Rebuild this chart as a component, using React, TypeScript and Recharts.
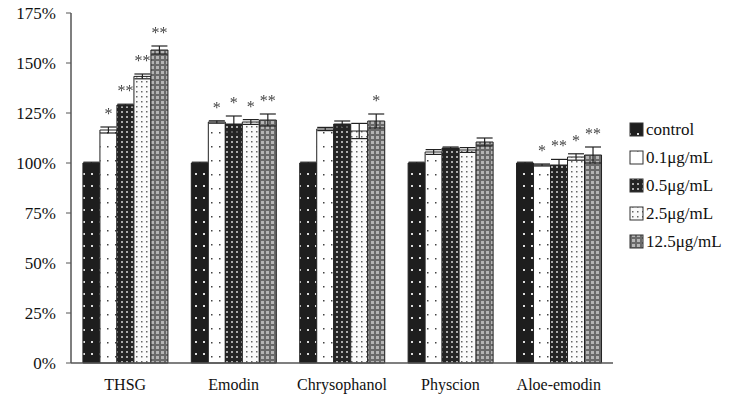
import React from "react";
import { BarChart, Bar, XAxis, YAxis, ErrorBar } from "recharts";

const categories = ["THSG", "Emodin", "Chrysophanol", "Physcion", "Aloe-emodin"];

const seriesNames = ["control", "0.1μg/mL", "0.5μg/mL", "2.5μg/mL", "12.5μg/mL"];

// mean values (% of control)
const controlValues = [100, 100, 100, 100, 100];
const dose01Values = [116.5, 120.5, 117, 105.5, 99];
const dose05Values = [129, 119.5, 119.5, 107.5, 99];
const dose25Values = [143.3, 120.5, 116, 106.5, 103];
const dose125Values = [156.5, 121.5, 121, 110.5, 104];

// error bar half-lengths
const controlErr = [0.4, 0.4, 0.4, 0.4, 0.4];
const dose01Err = [1.5, 0.6, 0.8, 1.2, 0.5];
const dose05Err = [0.4, 4, 1.5, 0.5, 2.8];
const dose25Err = [1.2, 1.2, 3.8, 1.2, 1.6];
const dose125Err = [2, 3, 3.5, 2, 4];

// significance marks
const controlStars = ["", "", "", "", ""];
const dose01Stars = ["*", "*", "", "", "*"];
const dose05Stars = ["**", "*", "", "", "**"];
const dose25Stars = ["**", "*", "", "", "*"];
const dose125Stars = ["**", "**", "*", "", "**"];

const yTicks = [0, 25, 50, 75, 100, 125, 150, 175];

const FONT = "'Liberation Serif', 'Times New Roman', serif";

const keys = ["control", "d01", "d05", "d25", "d125"];
const values = [controlValues, dose01Values, dose05Values, dose25Values, dose125Values];
const errs = [controlErr, dose01Err, dose05Err, dose25Err, dose125Err];
const stars = [controlStars, dose01Stars, dose05Stars, dose25Stars, dose125Stars];

const data = categories.map((name, i) => {
  const row: Record<string, string | number> = { name };
  keys.forEach((k, s) => {
    row[k] = values[s][i];
    row[k + "Err"] = errs[s][i];
  });
  return row;
});

function Patterns({ prefix }: { prefix: string }) {
  return (
    <defs>
      <pattern id={prefix + "0"} width="8" height="12" patternUnits="userSpaceOnUse">
        <rect width="8" height="12" fill="#1e1e1e" />
        <rect x="3" y="5" width="2" height="2" fill="#ddd" />
      </pattern>
      <pattern id={prefix + "1"} width="8" height="14" patternUnits="userSpaceOnUse">
        <rect width="8" height="14" fill="#fff" />
        <rect x="3" y="6" width="1.5" height="1.5" fill="#444" />
      </pattern>
      <pattern id={prefix + "2"} width="5" height="5" patternUnits="userSpaceOnUse">
        <rect width="5" height="5" fill="#242424" />
        <rect x="1" y="1" width="2" height="2" fill="#aaa" />
      </pattern>
      <pattern id={prefix + "3"} width="5" height="5" patternUnits="userSpaceOnUse">
        <rect width="5" height="5" fill="#fafafa" />
        <rect x="1" y="1" width="1.5" height="1.5" fill="#666" />
      </pattern>
      <pattern id={prefix + "4"} width="5" height="5" patternUnits="userSpaceOnUse">
        <rect width="5" height="5" fill="#6a6a6a" />
        <rect x="1" y="1" width="3" height="3" fill="#b5b5b5" />
      </pattern>
    </defs>
  );
}

const renderStars = (s: number) => (props: any) => {
  const { x, y, width, height, index } = props;
  const mark = stars[s][index];
  if (!mark) return <g key={`star-${s}-${index}`} />;
  const v = values[s][index];
  const e = errs[s][index];
  const top = y - (e * height) / v;
  return (
    <g key={`star-${s}-${index}`} style={{ filter: "grayscale(1)" }}>
      <text
        x={x + width / 2}
        y={top - 8}
        textAnchor="middle"
        fontFamily={FONT}
        fontSize={16}
        fill="#444"
        stroke="none"
      >
        {mark}
      </text>
    </g>
  );
};

const YTick = (props: any) => {
  const { x, y, payload } = props;
  return (
    <text x={x - 8} y={y + 6} textAnchor="end" fontFamily={FONT} fontSize={17} fill="#111">
      {payload.value}%
    </text>
  );
};

const XTick = (props: any) => {
  const { x, y, payload } = props;
  return (
    <text x={x} y={y + 19} textAnchor="middle" fontFamily={FONT} fontSize={16} fill="#111">
      {payload.value}
    </text>
  );
};

function LegendBox() {
  return (
    <svg width={110} height={150} style={{ position: "absolute", left: 626, top: 116 }}>
      <Patterns prefix="lg" />
      {seriesNames.map((n, i) => (
        <g key={n} transform={`translate(0, ${i * 28})`}>
          <rect x={4} y={7} width={13} height={13} fill={`url(#lg${i})`} stroke="#333" strokeWidth={1} />
          <text x={20} y={19} fontFamily={FONT} fontSize={17} fill="#111">
            {n}
          </text>
        </g>
      ))}
    </svg>
  );
}

export default function App() {
  return (
    <div style={{ position: "absolute", left: 0, top: 0, width: 736, height: 409, background: "#fff" }}>
      <BarChart
        width={736}
        height={409}
        data={data}
        margin={{ top: 13, right: 123, left: 11, bottom: 16 }}
        barCategoryGap="11%"
        barGap={0}
      >
        <Patterns prefix="pt" />
        <XAxis
          dataKey="name"
          height={30}
          tick={<XTick />}
          tickLine={false}
          axisLine={{ stroke: "#555", strokeWidth: 1.5 }}
        />
        <YAxis
          width={60}
          domain={[0, 175]}
          ticks={yTicks}
          tick={<YTick />}
          tickSize={5}
          tickLine={{ stroke: "#555" }}
          axisLine={{ stroke: "#555", strokeWidth: 1.5 }}
          interval={0}
        />
        {keys.map((k, s) => (
          <Bar
            key={k}
            dataKey={k}
            fill={`url(#pt${s})`}
            stroke="#222"
            strokeWidth={1}
            isAnimationActive={false}
            label={renderStars(s)}
          >
            <ErrorBar dataKey={k + "Err"} width={8} stroke="#222" strokeWidth={1.2} direction="y" />
          </Bar>
        ))}
      </BarChart>
      <LegendBox />
    </div>
  );
}
